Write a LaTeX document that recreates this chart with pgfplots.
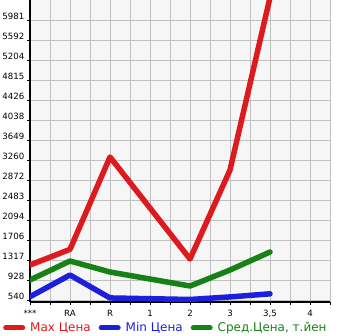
\documentclass[border=0pt]{standalone}
\usepackage{fontspec}
\setmainfont{DejaVu Sans}
\usepackage{pgfplots}
\pgfplotsset{compat=1.18}
\definecolor{cred}{RGB}{221,26,30}
\definecolor{cblue}{RGB}{30,30,221}
\definecolor{cgreen}{RGB}{22,130,22}
\definecolor{gridc}{RGB}{192,192,192}
\definecolor{bgc}{RGB}{246,246,246}
\begin{document}
\begin{tikzpicture}
\begin{axis}[
  scale only axis, width=300bp, height=302bp,
  xmin=0, xmax=7.5, ymin=501, ymax=6372,
  axis background/.style={fill=bgc},
  xtick={0,1,2,3,4,5,6,7},
  xticklabels={{***},{RA},{R},{1},{2},{3},{3,5},{4}},
  minor xtick={0.5,1.5,2.5,3.5,4.5,5.5,6.5,7.5},
  ytick={540,928,1317,1706,2094,2483,2872,3260,3649,4038,4426,4815,5204,5592,5981},
  yticklabels={540,928,1317,1706,2094,2483,2872,3260,3649,4038,4426,4815,5204,5592,5981},
  grid=both,
  major grid style={gridc, line width=0.9bp},
  minor grid style={gridc, line width=0.9bp},
  axis x line*=bottom, axis y line*=left,
  axis line style={black, line width=2.2bp, -},
  tick align=outside, major tick length=3bp, minor tick length=3bp,
  tick style={black, line width=0.8bp},
  /pgf/number format/assume math mode=true,
  ticklabel style={font=\fontsize{8.6bp}{10bp}\selectfont, inner sep=0pt},
  yticklabel style={anchor=east, xshift=-2.5bp, yshift=4bp},
  xticklabel style={anchor=north, yshift=-5bp},
  legend columns=3,
  legend style={at={(-0.1,-0.086)}, anchor=west, draw=none, fill=none,
    font=\fontsize{12bp}{14bp}\selectfont,
    nodes={inner sep=0pt},
    /tikz/every odd column/.append style={column sep=5bp},
    /tikz/every even column/.append style={column sep=8bp}},
  legend image code/.code={\draw[#1, line width=5bp, line cap=round] (2.5bp,0bp) -- (19.5bp,0bp);},
  every axis plot/.append style={line width=5.5bp, line join=round, line cap=round},
  clip=true,
]
\addplot[cred] coordinates {(0,1220) (1,1525) (2,3320) (4,1337) (5,3067) (6,6420)};
\addlegendentry{\textcolor{cred}{Max Цена}}
\addplot[cblue] coordinates {(0,604) (1,1026) (2,580) (4,550) (5,600) (6,660)};
\addlegendentry{\textcolor{cblue}{Min Цена}}
\addplot[cgreen] coordinates {(0,929) (1,1298) (2,1084) (4,812) (5,1123) (6,1473)};
\addlegendentry{\textcolor{cgreen}{Сред.Цена, т.йен}}
\end{axis}
\pgfresetboundingbox
\path[use as bounding box] ([xshift=-30bp]current axis.north west) rectangle ([xshift=15bp,yshift=-33bp]current axis.south east);
\end{tikzpicture}
\end{document}
